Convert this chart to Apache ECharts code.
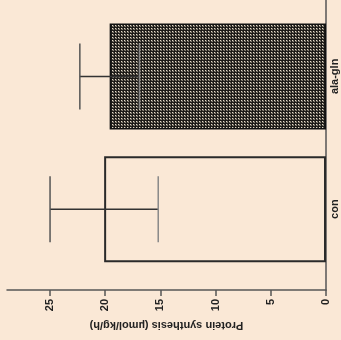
<!DOCTYPE html>
<html><head><meta charset="utf-8">
<script src="https://cdn.jsdelivr.net/npm/echarts@6/dist/echarts.min.js"></script>
<style>html,body{margin:0;padding:0;background:#FAE8D6;}#c{width:341px;height:340px;}</style>
</head><body><div id="c"></div>
<script>
var categories = ['con', 'ala-gln'];
var means = [20.1, 19.6];
var errors = [4.9, 2.7];
var tickValues = [0, 5, 10, 15, 20, 25];
var axisTitle = 'Protein synthesis (µmol/kg/h)';

var pc = document.createElement('canvas');
pc.width = 3; pc.height = 3;
var ctx = pc.getContext('2d');
ctx.fillStyle = '#1c1a17'; ctx.fillRect(0, 0, 3, 3);
ctx.fillStyle = '#e6dccb'; ctx.fillRect(1, 1, 1, 1);
ctx.fillStyle = '#8d867a'; ctx.fillRect(2, 2, 1, 1);
ctx.fillStyle = '#5a554c'; ctx.fillRect(2, 1, 1, 1); ctx.fillRect(1, 2, 1, 1);

var chart = echarts.init(document.getElementById('c'), null, {renderer: 'canvas'});
var barData = means.map(function (m, i) {
  return {
    value: [m, i],
    itemStyle: i === 1
      ? {color: {image: pc, repeat: 'repeat'}, borderColor: '#111', borderWidth: 1.5}
      : {color: '#FAE8D6', borderColor: '#2a2a2a', borderWidth: 2}
  };
});
var errData = means.map(function (m, i) { return [m, i, m - errors[i], m + errors[i]]; });
var txt = {fontFamily: 'Liberation Sans', fontSize: 11, fontWeight: 'bold', color: '#222'};

chart.setOption({
  backgroundColor: '#FAE8D6',
  animation: false,
  grid: [
    {left: 7, right: 15, top: 0, bottom: 50},
    {left: 7, right: 15, top: 10, bottom: 64.5}
  ],
  xAxis: [
    {gridIndex: 0, type: 'value', inverse: true, min: 0, max: 28.9,
     axisLine: {show: true, lineStyle: {color: '#555', width: 1.5}},
     axisTick: {show: true, customValues: tickValues, length: 6, lineStyle: {color: '#555', width: 1.5}},
     axisLabel: Object.assign({customValues: tickValues, rotate: 90, margin: 9}, txt),
     splitLine: {show: false},
     name: axisTitle, nameLocation: 'middle', nameRotate: 180, nameGap: 27,
     nameTextStyle: {fontFamily: 'Liberation Sans', fontSize: 11, fontWeight: 'bold', color: '#222'}},
    {gridIndex: 1, type: 'value', inverse: true, min: 0, max: 28.9, show: false}
  ],
  yAxis: [
    {gridIndex: 0, type: 'value', position: 'right', min: 0, max: 1,
     axisLine: {show: true, onZero: false, lineStyle: {color: '#555', width: 1.5}},
     axisTick: {show: false}, axisLabel: {show: false}, splitLine: {show: false}},
    {gridIndex: 1, type: 'category', data: categories, position: 'right',
     axisLine: {show: false}, axisTick: {show: false},
     axisLabel: Object.assign({rotate: 90, margin: 3}, txt)}
  ],
  series: [
    {type: 'bar', xAxisIndex: 1, yAxisIndex: 1, barWidth: 106, data: barData, z: 2},
    {type: 'custom', xAxisIndex: 1, yAxisIndex: 1, data: errData, z: 3,
     encode: {x: [0, 2, 3], y: 1},
     renderItem: function (params, api) {
       var idx = api.value(1);
       var lo = api.coord([api.value(2), idx]);
       var hi = api.coord([api.value(3), idx]);
       var h = 33;
       return {type: 'group', children: [
         {type: 'line', shape: {x1: lo[0], y1: lo[1], x2: hi[0], y2: hi[1]}, style: {stroke: '#333', lineWidth: 1.5}},
         {type: 'line', shape: {x1: hi[0], y1: hi[1] - h, x2: hi[0], y2: hi[1] + h}, style: {stroke: '#555', lineWidth: 1.5}},
         {type: 'line', shape: {x1: lo[0], y1: lo[1] - h, x2: lo[0], y2: lo[1] + h}, style: {stroke: '#888', lineWidth: 1.5}}
       ]};
     }}
  ]
});
</script></body></html>
